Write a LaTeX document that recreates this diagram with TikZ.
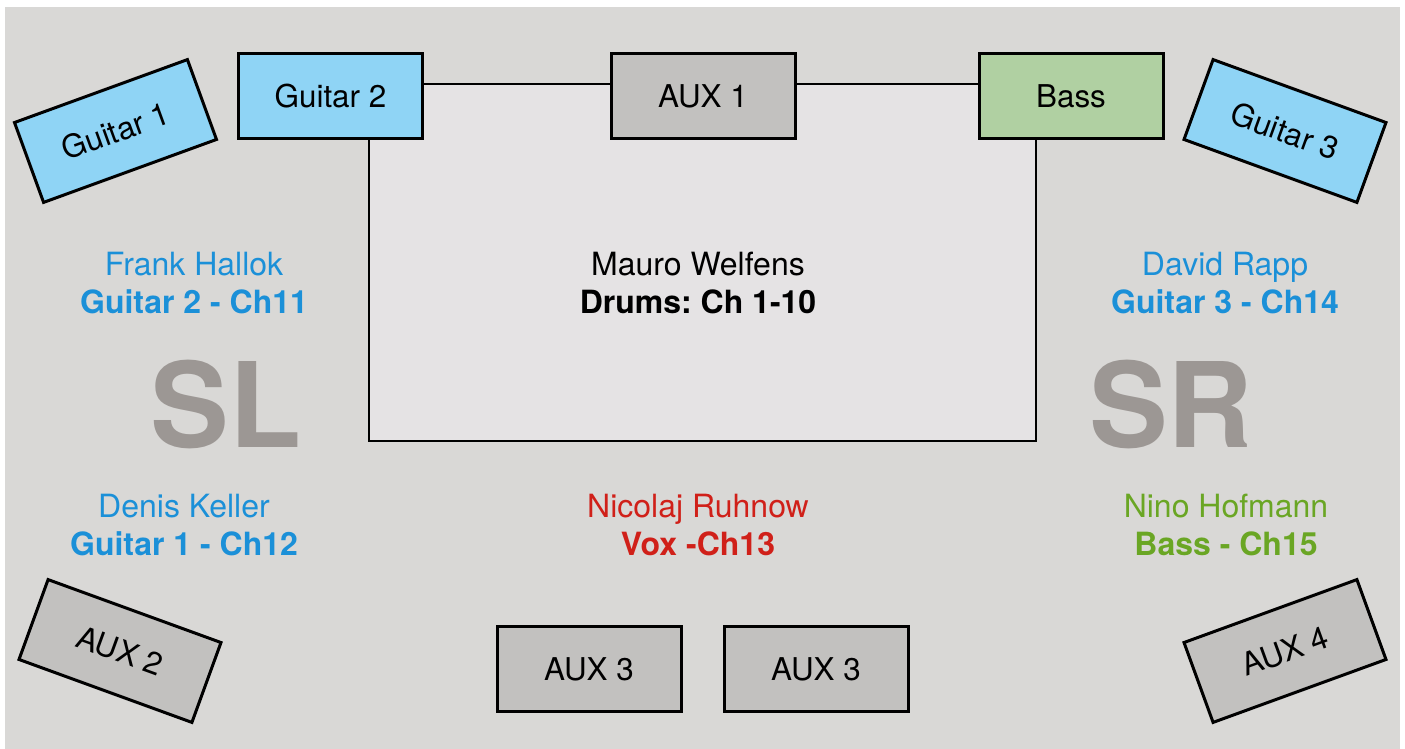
\documentclass[tikz,border=0pt]{standalone}
\usepackage{fontspec}
\setmainfont{TeX Gyre Heros}
\frenchspacing
\definecolor{bgc}{HTML}{D9D8D6}
\definecolor{drumc}{HTML}{E5E3E4}
\definecolor{guitc}{HTML}{8FD4F5}
\definecolor{bassc}{HTML}{B0D0A2}
\definecolor{auxc}{HTML}{C2C1BF}
\definecolor{bluet}{HTML}{1B90D8}
\definecolor{redt}{HTML}{D02019}
\definecolor{greent}{HTML}{6AA624}
\definecolor{sidec}{HTML}{9C9794}
\begin{document}
\begin{tikzpicture}[x=0.5pt,y=0.5pt,
  box/.style={draw=black, line width=1.5pt, minimum width=92pt, minimum height=42.5pt, inner sep=0pt, font=\fontsize{15.7}{18}\selectfont},
  guit/.style={box, fill=guitc},
  auxbox/.style={box, fill=auxc},
  bassbox/.style={box, fill=bassc},
  lbl/.style={anchor=base, inner sep=0pt, font=\fontsize{16}{18}\selectfont},
  lblb/.style={anchor=base, inner sep=0pt, font=\fontsize{16}{18}\selectfont\bfseries},
  side/.style={inner sep=0pt, text=sidec, font=\fontsize{59}{60}\selectfont\bfseries}]
\useasboundingbox (0,0) rectangle (1405,-749);
\fill[bgc] (5,-7) rectangle (1400,-749);
% drum riser
\node[draw=black, line width=1.2pt, fill=drumc, minimum width=333.5pt, minimum height=178.5pt, inner sep=0pt] (drums) at (702.5,-262.5) {};
% top boxes
\node[guit] (g2) at (330.5,-96) {Guitar 2};
\node[auxbox] (aux1) at (703,-96) {AUX 1};
\node[bassbox] (bass) at (1071,-96) {Bass};
\node[guit, rotate=20] (g1) at (115.5,-131) {Guitar 1};
\node[guit, rotate=-20] (g3) at (1285,-131) {Guitar 3};
% bottom boxes
\node[auxbox, rotate=-20] (aux2) at (120,-651) {AUX 2};
\node[auxbox, rotate=20] (aux4) at (1285,-651) {AUX 4};
\node[auxbox] (aux3a) at (589,-669) {AUX 3};
\node[auxbox] (aux3b) at (816,-669) {AUX 3};
% labels
\node[lbl, text=bluet] (fh) at (194,-276) {Frank Hallok};
\node[lblb, text=bluet] (fhc) at (194,-314) {Guitar 2 - Ch11};
\node[lbl] (mw) at (698,-276) {Mauro Welfens};
\node[lblb] (mwc) at (698,-314) {Drums: Ch 1-10};
\node[lbl, text=bluet] (dr) at (1225,-276) {David Rapp};
\node[lblb, text=bluet] (drc) at (1225,-314) {Guitar 3 - Ch14};
\node[lbl, text=bluet] (dk) at (184,-517) {Denis Keller};
\node[lblb, text=bluet] (dkc) at (184,-555) {Guitar 1 - Ch12};
\node[lbl, text=redt] (nr) at (698,-517) {Nicolaj Ruhnow};
\node[lblb, text=redt] (nrc) at (698,-555) {Vox -Ch13};
\node[lbl, text=greent] (nh) at (1226,-517) {Nino Hofmann};
\node[lblb, text=greent] (nhc) at (1226,-555) {Bass - Ch15};
% stage sides
\node[side, anchor=base] (sl) at (226,-447) {SL};
\node[side, anchor=base] (sr) at (1171,-447) {SR};
\end{tikzpicture}
\end{document}
